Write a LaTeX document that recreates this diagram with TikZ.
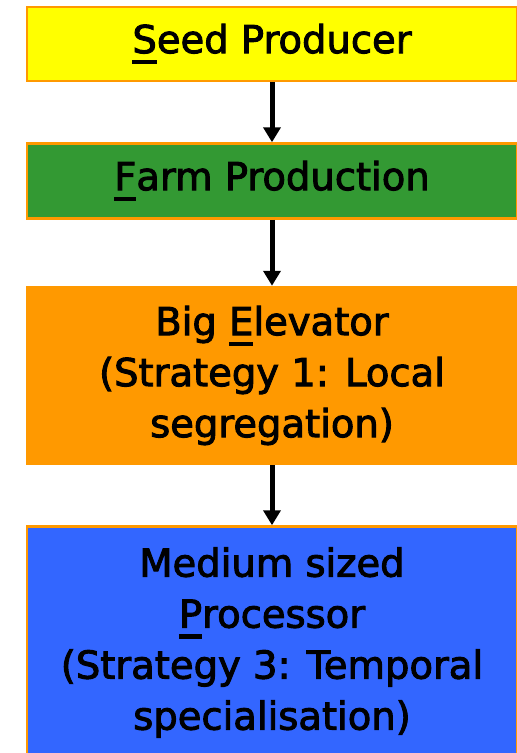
\documentclass[tikz,border=0pt]{standalone}
\usepackage{fontspec}
\setmainfont{DejaVu Sans}
\newfontfamily\stagefont{DejaVu Sans}[FakeBold=2.5]
\usetikzlibrary{positioning,arrows.meta}
\definecolor{stageSeed}{HTML}{FFFF00}
\definecolor{stageFarm}{HTML}{339933}
\definecolor{stageElevator}{HTML}{FF9900}
\definecolor{stageProcessor}{HTML}{3366FF}
\definecolor{stageEdge}{HTML}{FF9900}
\tikzset{
    stageBase/.style={
        rectangle,
        draw=stageEdge,
        line width=2.5pt,
        minimum width=490pt,
        font=\stagefont\fontsize{38.5}{51}\selectfont,
        text=black,
        align=center,
        inner sep=0pt
    },
    % one style per link of the chain
    seed/.style={stageBase, fill=stageSeed, minimum height=74pt},
    farm/.style={stageBase, fill=stageFarm, minimum height=75pt},
    elevator/.style={stageBase, fill=stageElevator, minimum height=177pt},
    processor/.style={stageBase, fill=stageProcessor, minimum height=232pt},
    % Arrows
    chainArrow/.style={-{Triangle[length=15pt,width=17pt]}, line width=5pt, draw=black}
}
% underlined initial letter
\newcommand{\keyletter}[1]{\setbox0\hbox{#1}\rlap{\rule[-11pt]{\wd0}{4.5pt}}\box0}

\begin{document}
\begin{tikzpicture}[x=1pt,y=1pt]
    \useasboundingbox (0,0) rectangle (517,-753);

    \node[seed] (seed) at (272,-44) {\keyletter{S}eed Producer};
    \node[farm, below=60pt of seed] (farm) {\keyletter{F}arm Production};
    \node[elevator, below=66pt of farm] (elevator) {Big \keyletter{E}levator\\
    (Strategy 1: Local\\
    segregation)};
    \node[processor, below=60pt of elevator] (processor) {Medium sized\\
    \keyletter{P}rocessor\\
    (Strategy 3: Temporal\\
    specialisation)};

    \draw[chainArrow] (seed) -- (farm);
    \draw[chainArrow] (farm) -- (elevator);
    \draw[chainArrow] (elevator) -- (processor);
\end{tikzpicture}
\end{document}
